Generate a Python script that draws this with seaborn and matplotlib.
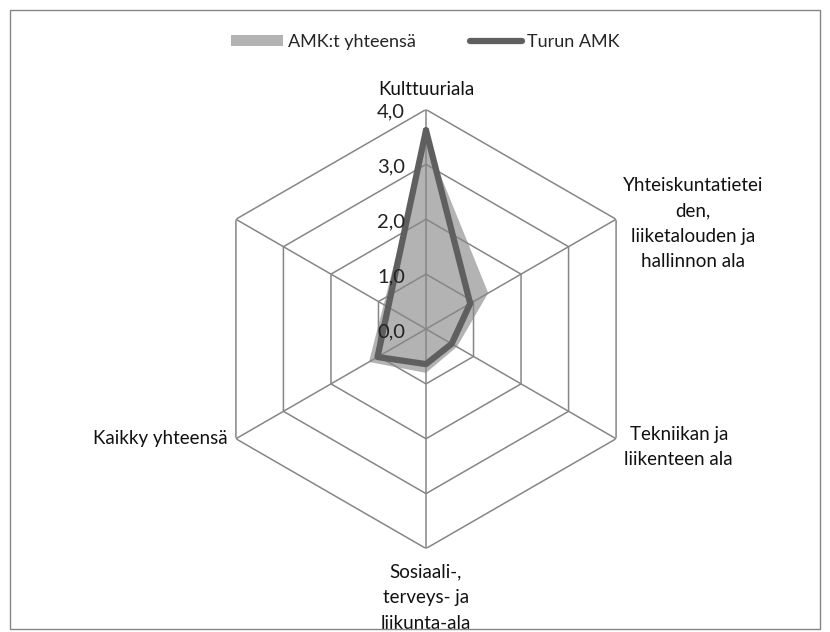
import matplotlib
matplotlib.use("Agg")
import matplotlib.pyplot as plt
from matplotlib.lines import Line2D
from matplotlib.patches import Patch, Rectangle
import numpy as np
import seaborn as sns

# data (clockwise from top, last axis has no label / no value)
categories = [
    "Kulttuuriala",
    "Yhteiskuntatietei\nden,\nliiketalouden ja\nhallinnon ala",
    "Tekniikan ja\nliikenteen ala",
    "Sosiaali-,\nterveys- ja\nliikunta-ala",
    "Kaikky yhteensä",
    "",
]
amk_total = [3.45, 1.31, 0.65, 0.80, 1.20, np.nan]
turun_amk = [3.62, 0.93, 0.54, 0.64, 1.02, np.nan]
ticks = [0.0, 1.0, 2.0, 3.0, 4.0]

GRID = "#868686"
FILL = "#B3B3B3"
LINE = "#5F5F5F"

sns.set_style("white")
plt.rcParams["font.family"] = ["Lato", "DejaVu Sans"]

fig = plt.figure(figsize=(8.3, 6.32), dpi=100)
cx, cy, rad = 426 / 830, (632 - 329) / 632, 219.5
ax = fig.add_axes([cx - rad / 830, cy - rad / 632, 2 * rad / 830, 2 * rad / 632],
                  projection="polar")
ax.set_theta_offset(np.pi / 2)
ax.set_theta_direction(-1)
ax.set_ylim(0, ticks[-1])
ax.grid(False)
ax.spines["polar"].set_visible(False)
ax.set_xticks([])
ax.set_yticks([])
ax.patch.set_alpha(0)

n = len(categories)
angles = np.linspace(0, 2 * np.pi, n, endpoint=False)

# hexagonal grid + spokes
for lvl in ticks[1:]:
    ax.plot(np.append(angles, angles[0]), [lvl] * (n + 1), color=GRID, lw=1.1, zorder=2)
for a in angles:
    ax.plot([a, a], [0, ticks[-1]], color=GRID, lw=1.1, zorder=2)


def closed(vals):
    v = np.asarray(vals, dtype=float)
    m = ~np.isnan(v)
    a, r = angles[m], v[m]
    return np.append(a, a[0]), np.append(r, r[0])


a1, r1 = closed(amk_total)
ax.fill(a1, r1, color=FILL, lw=0, zorder=1)
a2, r2 = closed(turun_amk)
ax.plot(a2, r2, color=LINE, lw=4.5, solid_joinstyle="round", solid_capstyle="round", zorder=3)

# radial tick labels left of the top spoke
for t in ticks:
    ax.annotate(f"{t:.1f}".replace(".", ","), xy=(0, t), xytext=(-15, -2),
                textcoords="offset points", ha="right", va="center",
                fontsize=14.5, color="#222222", zorder=4)

# category labels
label_pos = [
    ((0, 8), "center", "bottom"),
    ((5, -3), "left", "center"),
    ((6, -6), "left", "center"),
    ((0, -11), "center", "top"),
    ((-6, 0), "right", "center"),
    ((-6, 0), "right", "center"),
]
for a, lab, (off, ha, va) in zip(angles, categories, label_pos):
    ax.annotate(lab, xy=(a, ticks[-1]), xytext=off, textcoords="offset points",
                ha=ha, va=va, multialignment="center", fontsize=13.5,
                color="#111111", linespacing=1.6, annotation_clip=False)

handles = [Patch(facecolor=FILL, edgecolor="none"),
           Line2D([], [], color=LINE, lw=4.5, solid_capstyle="round")]
fig.legend(handles, ["AMK:t yhteensä", "Turun AMK"], loc="center",
           bbox_to_anchor=(0.512, 1 - 42 / 632), ncol=2, frameon=False,
           fontsize=13, handlelength=2.9, handleheight=0.55, handletextpad=0.25,
           columnspacing=3.0)

fig.patches.append(Rectangle((10 / 830, 3 / 632), 810 / 830, 619 / 632,
                             transform=fig.transFigure, fill=False,
                             edgecolor=GRID, lw=1))

fig.savefig("out.png", dpi=100)
